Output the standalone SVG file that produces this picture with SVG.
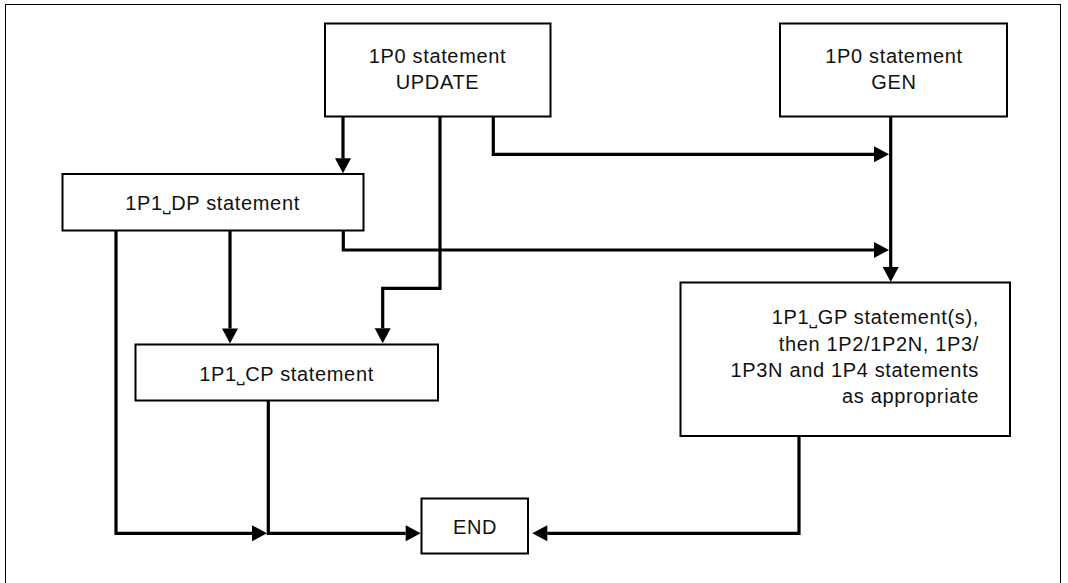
<svg xmlns="http://www.w3.org/2000/svg" width="1068" height="583" viewBox="0 0 1068 583">
<style>
.box{fill:#fff;stroke:#000;stroke-width:2}
.t{font-family:"Liberation Sans","DejaVu Sans",Arial,sans-serif;font-size:20px;letter-spacing:0.65px;fill:#111}
.c{text-anchor:middle}
.r{text-anchor:end}
.ln{fill:none;stroke:#000;stroke-width:3.2;stroke-linejoin:miter;stroke-linecap:butt}
.arr{marker-end:url(#ah)}
</style>
<defs>
<marker id="ah" markerUnits="userSpaceOnUse" markerWidth="16" markerHeight="18" refX="0" refY="8" orient="auto" overflow="visible">
<path d="M0,0 L15,8 L0,16 z" fill="#000"/>
</marker>
</defs>
<rect x="5.5" y="4.5" width="1055" height="600" fill="#fff" stroke="#000" stroke-width="1"/>
<g id="connectors">
<path class="ln arr" d="M343,117 V158.3"/>
<path class="ln arr" d="M440,117 V288.3 H382.7 V328.3"/>
<path class="ln arr" d="M493.3,117 V154.3 H874"/>
<path class="ln arr" d="M343.3,231 V250 H874"/>
<path class="ln arr" d="M890.7,117 V267"/>
<path class="ln arr" d="M230,231 V328.5"/>
<path class="ln arr" d="M116,231 V533.3 H252"/>
<path class="ln arr" d="M268.3,401 V533.3 H405.7"/>
<path class="ln arr" d="M799,437 V533.3 H547.3"/>
</g>
<g id="update">
<rect class="box" x="325" y="23.5" width="225.5" height="93"/>
<text class="t c" x="437.5" y="62.5">1P0 statement</text>
<text class="t c" x="437.5" y="88.5">UPDATE</text>
</g>
<g id="gen">
<rect class="box" x="780" y="23.5" width="227" height="93"/>
<text class="t c" x="894" y="62.5">1P0 statement</text>
<text class="t c" x="894" y="88.5">GEN</text>
</g>
<g id="dp">
<rect class="box" x="62.5" y="174" width="301" height="56.5"/>
<text class="t c" x="212.5" y="210">1P1˽DP statement</text>
</g>
<g id="cp">
<rect class="box" x="135.5" y="344.5" width="302.5" height="56"/>
<text class="t c" x="286.5" y="380.5">1P1˽CP statement</text>
</g>
<g id="gp">
<rect class="box" x="680.5" y="282.5" width="329.5" height="153.5"/>
<text class="t r" x="979" y="324.3">1P1˽GP statement(s),</text>
<text class="t r" x="979" y="350.7">then 1P2/1P2N, 1P3/</text>
<text class="t r" x="979" y="376.7">1P3N and 1P4 statements</text>
<text class="t r" x="979" y="403.3">as appropriate</text>
</g>
<g id="end">
<rect class="box" x="421.5" y="498.5" width="106.5" height="55"/>
<text class="t c" x="475" y="534">END</text>
</g>
</svg>
